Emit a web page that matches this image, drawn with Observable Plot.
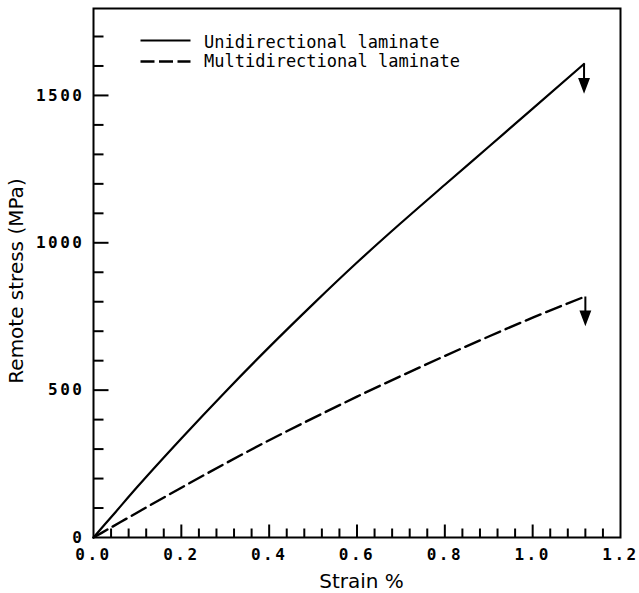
<!DOCTYPE html>
<html><head><meta charset="utf-8">
<script src="https://cdn.jsdelivr.net/npm/d3@7"></script>
<script src="https://cdn.jsdelivr.net/npm/@observablehq/plot@0.6"></script>
<style>body{margin:0;background:#fff}</style>
</head><body><div id="chart"></div>
<script>
const uniStrain = [0, 0.05, 0.1, 0.2, 0.3, 0.4, 0.5, 0.6, 0.7, 0.8, 0.9, 1.0, 1.117];
const uniStress = [0, 86, 172, 336, 494, 646, 792, 933, 1067, 1197, 1326, 1455, 1607];
const multiStrain = [0, 0.04, 0.1, 0.2, 0.3, 0.4, 0.5, 0.6, 0.7, 0.8, 0.9, 1.0, 1.12];
const multiStress = [0, 34, 85, 169, 251, 330, 405, 478, 548, 616, 682, 746, 818];
const seriesNames = ["Unidirectional laminate", "Multidirectional laminate"];
const xTickLabels = [0, 0.2, 0.4, 0.6, 0.8, 1.0, 1.2];
const xMajorTicks = [0.2, 0.4, 0.6, 0.8, 1.0];
const xMinorTicks = [0.04,0.08,0.12,0.16,0.24,0.28,0.32,0.36,0.44,0.48,0.52,0.56,0.64,0.68,0.72,0.76,0.84,0.88,0.92,0.96,1.04,1.08,1.12,1.16];
const yTickLabels = [0, 500, 1000, 1500];
const yMajorTicks = [500, 1000, 1500];
const yMinorTicks = [100,200,300,400,600,700,800,900,1100,1200,1300,1400,1600,1700];
const xTitle = "Strain %";
const yTitle = "Remote stress (MPa)";

const uni = uniStrain.map((x, i) => ({x, y: uniStress[i]}));
const multi = multiStrain.map((x, i) => ({x, y: multiStress[i]}));
const ends = [uni[uni.length - 1], multi[multi.length - 1]];

const lineShape = {draw(ctx, l) { ctx.moveTo(0, 0); ctx.lineTo(0, -l); }};
const arrowShape = {draw(ctx, l) {
  const h = 12, w = 4.5;
  ctx.moveTo(0, 0); ctx.lineTo(0, -(l - h));
  ctx.moveTo(-w, -(l - h)); ctx.lineTo(w, -(l - h)); ctx.lineTo(0, -l); ctx.closePath();
}};
const tickOpts = {anchor: "start", shape: lineShape, stroke: "black", strokeWidth: 2, strokeLinecap: "butt"};

const chart = Plot.plot({
  width: 639, height: 593,
  marginLeft: 93, marginRight: 19, marginTop: 8, marginBottom: 56,
  x: {domain: [0, 1.2], label: null},
  y: {domain: [0, 1795], label: null},
  style: {fontFamily: "DejaVu Sans Mono", fontSize: "16px", background: "white", color: "black"},
  marks: [
    Plot.vector(xMinorTicks, {x: d => d, frameAnchor: "bottom", length: 9, rotate: 0, ...tickOpts}),
    Plot.vector(xMajorTicks, {x: d => d, frameAnchor: "bottom", length: 13, rotate: 0, ...tickOpts}),
    Plot.vector(yMinorTicks, {y: d => d, frameAnchor: "left", length: 10, rotate: 90, ...tickOpts}),
    Plot.vector(yMajorTicks, {y: d => d, frameAnchor: "left", length: 15, rotate: 90, ...tickOpts}),
    Plot.frame({stroke: "black", strokeWidth: 2}),
    Plot.axisX({ticks: xTickLabels, tickSize: 0, tickPadding: 11, tickFormat: d => d.toFixed(1), label: null, fontSize: 16, fontWeight: "bold"}),
    Plot.axisY({ticks: yTickLabels, tickSize: 0, tickPadding: 9, tickFormat: d => String(d), label: null, fontSize: 16, fontWeight: "bold"}),
    Plot.line(uni, {x: "x", y: "y", stroke: "black", strokeWidth: 2.2, curve: "monotone-x"}),
    Plot.line(multi, {x: "x", y: "y", stroke: "black", strokeWidth: 2.4, strokeDasharray: "16,6", curve: "monotone-x"}),
    Plot.vector(ends, {x: "x", y: "y", rotate: 180, length: 27, anchor: "start", shape: arrowShape, stroke: "black", fill: "black", strokeWidth: 2, strokeLinejoin: "miter", strokeLinecap: "butt"}),
    Plot.vector([0], {frameAnchor: "top-left", dx: 47, dy: 32, rotate: 90, length: 50, anchor: "start", shape: lineShape, stroke: "black", strokeWidth: 2, strokeLinecap: "butt"}),
    Plot.vector([0], {frameAnchor: "top-left", dx: 47, dy: 53, rotate: 90, length: 50, anchor: "start", shape: lineShape, stroke: "black", strokeWidth: 2.4, strokeDasharray: "14,4.5", strokeLinecap: "butt"}),
    Plot.text([seriesNames[0]], {text: d => d, frameAnchor: "top-left", dx: 110.5, dy: 39.7, textAnchor: "start", lineAnchor: "bottom", fontSize: 17, fontFamily: "DejaVu Sans Mono"}),
    Plot.text([seriesNames[1]], {text: d => d, frameAnchor: "top-left", dx: 110.5, dy: 58.7, textAnchor: "start", lineAnchor: "bottom", fontSize: 17, fontFamily: "DejaVu Sans Mono"}),
    Plot.text([xTitle], {text: d => d, frameAnchor: "bottom", dx: 4.5, dy: 44, textAnchor: "middle", lineAnchor: "middle", fontSize: 20, fontFamily: "DejaVu Sans"}),
    Plot.text([yTitle], {text: d => d, frameAnchor: "left", dx: -77, dy: 8, rotate: -90, textAnchor: "middle", lineAnchor: "middle", fontSize: 20, fontFamily: "DejaVu Sans"})
  ]
});
d3.select(chart).selectAll('g[aria-label="x-axis tick label"], g[aria-label="y-axis tick label"]').attr("letter-spacing", "2.5px");
document.getElementById("chart").appendChild(chart);
</script>
</body></html>
